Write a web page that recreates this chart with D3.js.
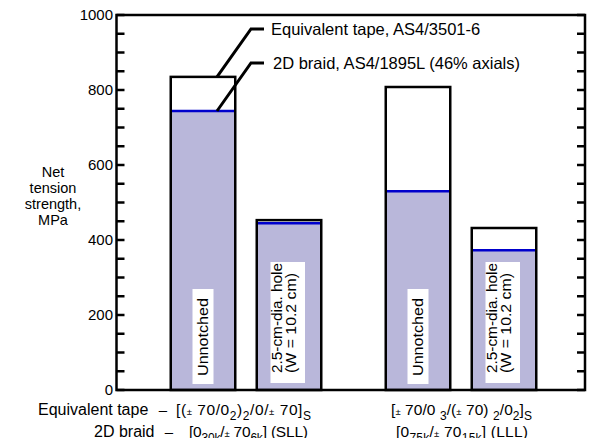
<!DOCTYPE html>
<html><head><meta charset="utf-8">
<script src="https://cdn.jsdelivr.net/npm/d3@7"></script>
<style>
html,body{margin:0;padding:0;background:#fff;}
svg{display:block;font-family:"Liberation Sans",Arial,Helvetica,sans-serif;}
</style></head>
<body>
<svg id="chart" width="589" height="438"></svg>
<script>
// ---- data ----
const groups = ["SLL", "LLL"];
const conditions = ["Unnotched", "Hole"];
const tapeValues = [835, 453, 808, 432];   // Equivalent tape, AS4/3501-6
const braidValues = [744, 445, 530, 373];  // 2D braid, AS4/1895L
const yTicks = [0, 200, 400, 600, 800, 1000];
const yLabelLines = ["Net", "tension", "strength,", "MPa"];
const legendLabels = ["Equivalent tape, AS4/3501-6", "2D braid, AS4/1895L (46% axials)"];
const unnotchedLabel = ["Unnotched"];
const holeLabel = ["2.5-cm-dia. hole", "(W = 10.2 cm)"];
const rowNames = ["Equivalent tape", "2D braid"];

const svg = d3.select("#chart");
const L = 116.5, R = 585, T = 15, B = 390;

const y = d3.scaleLinear().domain([0, 1000]).range([B, T]);
const x0 = d3.scaleBand().domain(groups).range([160, 547]).paddingInner(0.2).paddingOuter(0);
const x1 = d3.scaleBand().domain(conditions).range([0, x0.bandwidth()]).paddingInner(0.25).paddingOuter(0.125);

const bars = [];
groups.forEach((g, gi) => conditions.forEach((c, ci) => {
  const i = gi * conditions.length + ci;
  bars.push({g, c, tape: tapeValues[i], braid: braidValues[i], x: x0(g) + x1(c), w: x1.bandwidth()});
}));

// braid fill
svg.selectAll("rect.braid").data(bars).enter().append("rect")
  .attr("x", d => d.x).attr("y", d => y(d.braid))
  .attr("width", d => d.w).attr("height", d => y(0) - y(d.braid))
  .attr("fill", "#b9b7da");
// braid top line
svg.selectAll("line.braidTop").data(bars).enter().append("line")
  .attr("x1", d => d.x).attr("x2", d => d.x + d.w)
  .attr("y1", d => y(d.braid)).attr("y2", d => y(d.braid))
  .attr("stroke", "#0000cc").attr("stroke-width", 2.5);
// tape outline
svg.selectAll("rect.tape").data(bars).enter().append("rect")
  .attr("x", d => d.x).attr("y", d => y(d.tape))
  .attr("width", d => d.w).attr("height", d => y(0) - y(d.tape))
  .attr("fill", "none").attr("stroke", "#000").attr("stroke-width", 2.5);

// condition labels (rotated, white box)
const labelSpec = {
  Unnotched: {lines: unnotchedLabel, lens: [78], offs: [0], start: 14, boxFrom: 6, boxTo: 101, boxL: -10.5, boxR: 10.5},
  Hole: {lines: holeLabel, lens: [110, 100], offs: [-12.5, 1.5], start: 17, boxFrom: 7, boxTo: 128, boxL: -18.5, boxR: 16}
};
bars.forEach(d => {
  const s = labelSpec[d.c];
  const cx = d.x + d.w / 2;
  svg.append("rect").attr("x", cx + s.boxL).attr("y", B - s.boxTo)
    .attr("width", s.boxR - s.boxL).attr("height", s.boxTo - s.boxFrom).attr("fill", "#fff");
  s.lines.forEach((t, k) => {
    svg.append("text")
      .attr("transform", `translate(${cx + s.offs[k]},${B - s.start}) rotate(-90)`)
      .attr("dy", "0.35em").attr("font-size", 15)
      .attr("textLength", s.lens[k]).attr("lengthAdjust", "spacingAndGlyphs")
      .text(t);
  });
});

// frame
svg.append("path").attr("d", `M${L},${T}H${R}V${B}H${L}Z`)
  .attr("fill", "none").attr("stroke", "#000").attr("stroke-width", 2.5);

// ticks
const minor = d3.range(0, 1001, 50);
svg.selectAll("line.lt").data(minor).enter().append("line")
  .attr("x1", L).attr("x2", L + 8).attr("y1", d => y(d)).attr("y2", d => y(d))
  .attr("stroke", "#000").attr("stroke-width", 2.5);
svg.selectAll("line.rt").data(minor).enter().append("line")
  .attr("x1", R).attr("x2", R - 8).attr("y1", d => y(d)).attr("y2", d => y(d))
  .attr("stroke", "#000").attr("stroke-width", 2.5);
svg.selectAll("text.yt").data(yTicks).enter().append("text")
  .attr("x", L - 3.5).attr("y", d => y(d)).attr("dy", "0.35em")
  .attr("text-anchor", "end").attr("font-size", 15).text(d => d);

// y label
yLabelLines.forEach((t, k) => {
  svg.append("text").attr("x", 53).attr("y", 172 + k * 16).attr("dy", "0.35em")
    .attr("text-anchor", "middle").attr("font-size", 14.5).text(t);
});

// legend with leaders
const b0 = bars[0];
const lx = b0.x + b0.w / 2 + 14;
[b0.tape, b0.braid].forEach((v, k) => {
  const ly = y(v);
  const ty = k === 0 ? 29 : 63;
  svg.append("path").attr("d", `M${lx},${ly}L${lx + 34},${ty}H${lx + 47}`)
    .attr("fill", "none").attr("stroke", "#000").attr("stroke-width", 3);
  svg.append("text").attr("x", k === 0 ? 271 : 273).attr("y", ty).attr("dy", "0.35em")
    .attr("font-size", 16.5).text(legendLabels[k]);
});

// bottom labels with subscripts
function rich(x, yb, len, parts) {
  const t = svg.append("text").attr("x", x).attr("y", yb).attr("font-size", 15.5)
    .attr("textLength", len).attr("lengthAdjust", "spacing");
  parts.forEach(p => {
    const s = t.append("tspan").text(p[0]);
    if (p[1] === "sub") s.attr("font-size", 12);
    else if (p[1] === "pm") s.attr("font-size", 9.5);
    if (p[2]) s.attr("dy", p[2]);
  });
  return t;
}
svg.append("text").attr("x", 38).attr("y", 415).attr("font-size", 16).text(rowNames[0]);
svg.append("text").attr("x", 94).attr("y", 437).attr("font-size", 16).text(rowNames[1]);
svg.append("text").attr("x", 163).attr("y", 415).attr("font-size", 15).attr("text-anchor", "middle").text("\u2013");
svg.append("text").attr("x", 169).attr("y", 437).attr("font-size", 15).attr("text-anchor", "middle").text("\u2013");
rich(176, 415, 135, [["[("], ["\u00b1", "pm"], [" 70/0"], ["2", "sub", 5], [")", null, -5], ["2", "sub", 5], ["/0/", null, -5], ["\u00b1", "pm"], [" 70]"], ["S", "sub", 5]]);
rich(189, 437, 119, [["[0"], ["30k", "sub", 5], ["/", null, -5], ["\u00b1", "pm"], [" 70"], ["6k", "sub", 5], ["] (SLL)", null, -5]]);
rich(391, 415, 141, [["["], ["\u00b1", "pm"], [" 70/0 "], ["3", "sub", 5], ["/(", null, -5], ["\u00b1", "pm"], [" 70) "], ["2", "sub", 5], ["/0", null, -5], ["2", "sub", 5], ["]", null, -5], ["S", "sub", 5]]);
rich(396, 437, 132, [["[0"], ["75k", "sub", 5], ["/", null, -5], ["\u00b1", "pm"], [" 70"], ["15k", "sub", 5], ["] (LLL)", null, -5]]);
</script>
</body></html>
